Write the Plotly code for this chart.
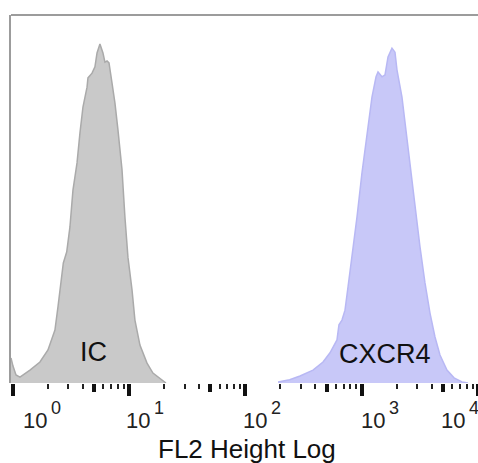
import plotly.graph_objects as go

# --- data (x as log10 decades of FL2 height, y as relative counts) ---
ic_log = [-0.017, 0.000, 0.026, 0.060, 0.146, 0.232, 0.301, 0.361, 0.387, 0.422, 0.433,
          0.462, 0.490, 0.516, 0.551, 0.576, 0.602, 0.637, 0.645, 0.680, 0.705, 0.723,
          0.748, 0.774, 0.791, 0.809, 0.826, 0.852, 0.877, 0.903, 0.938, 0.963, 0.989,
          1.024, 1.049, 1.092, 1.153, 1.204, 1.265, 1.316]
ic_counts = [6.8, 4.6, 2.2, 1.6, 3.5, 5.7, 9.0, 14.4, 20.7, 30.7, 32.6,
             35.6, 42.4, 52.4, 59.8, 67.9, 75.0, 80.4, 82.9, 84.2, 85.9, 89.7,
             92.1, 89.7, 87.2, 87.5, 87.0, 81.5, 76.1, 68.8, 57.9, 45.1, 34.2,
             25.3, 17.1, 10.3, 5.4, 2.7, 1.1, 0.0]

cx_log = [2.280, 2.380, 2.469, 2.581, 2.667, 2.727, 2.787, 2.804, 2.830, 2.856, 2.882,
          2.916, 2.959, 3.002, 3.045, 3.088, 3.123, 3.140, 3.174, 3.200, 3.226, 3.260,
          3.286, 3.303, 3.346, 3.372, 3.415, 3.458, 3.501, 3.544, 3.587, 3.630, 3.673,
          3.733, 3.794, 3.862, 3.914]
cx_counts = [0.3, 0.9, 1.9, 3.5, 5.7, 8.2, 11.7, 15.8, 17.1, 19.8, 26.1,
             34.2, 45.1, 57.1, 67.9, 77.7, 83.2, 84.5, 83.2, 83.7, 88.6, 91.0,
             89.9, 85.1, 77.7, 70.7, 59.8, 47.8, 37.0, 27.2, 19.0, 12.5, 7.6,
             3.5, 1.4, 0.3, 0.0]

series_labels = ["IC", "CXCR4"]
label_pos_log = [0.692, 3.20]
label_pos_count = [8.4, 7.9]

decade_exps = [0, 1, 2, 3, 4]
major_ticks = [10 ** e for e in decade_exps]
mid_ticks = [5, 50, 500, 5000]
minor_ticks = [m * 10 ** e for e in range(4) for m in (2, 3, 4, 6, 7, 8, 9)]
tick_label_shift = [9, -4, -3, -2, -38]

x_title = "FL2 Height Log"

xr = [-0.017, 4.0]

fig = go.Figure()
fig.add_trace(go.Scatter(
    x=[10 ** v for v in ic_log], y=ic_counts, mode="lines", fill="tozeroy",
    line=dict(color="#aaaaaa", width=1.5), fillcolor="#c9c9c9", showlegend=False,
    hoverinfo="skip"))
fig.add_trace(go.Scatter(
    x=[10 ** v for v in cx_log], y=cx_counts, mode="lines", fill="tozeroy",
    line=dict(color="#b8b8f4", width=1.5), fillcolor="#c8c8f8", showlegend=False,
    hoverinfo="skip"))
# invisible trace on second axis carrying the mid-decade ticks
fig.add_trace(go.Scatter(x=[1], y=[0], xaxis="x2", mode="markers",
                         marker=dict(opacity=0), showlegend=False, hoverinfo="skip"))

fig.update_layout(
    width=478, height=463, autosize=False,
    margin=dict(l=11, r=0, t=15, b=80),
    paper_bgcolor="white", plot_bgcolor="white",
    font=dict(family="Arial, Liberation Sans, sans-serif", color="#111111"),
    xaxis=dict(type="log", range=xr, showgrid=False, zeroline=False, showline=False,
               tickmode="array", tickvals=major_ticks, ticks="outside", ticklen=12,
               tickwidth=4, tickcolor="#111111", showticklabels=False,
               minor=dict(tickmode="array", tickvals=minor_ticks, ticks="outside",
                          ticklen=5, tickwidth=2, tickcolor="#222222", showgrid=False)),
    xaxis2=dict(type="log", range=xr, overlaying="x", side="bottom", anchor="y",
                showgrid=False, zeroline=False, showline=False,
                tickmode="array", tickvals=mid_ticks, ticks="outside", ticklen=8,
                tickwidth=4, tickcolor="#111111", showticklabels=False),
    yaxis=dict(range=[0, 100], showgrid=False, zeroline=False, showline=True,
               linecolor="#9c9c9c", linewidth=2, ticks="", showticklabels=False),
    shapes=[dict(type="line", xref="paper", yref="paper", x0=0, x1=1, y0=1, y1=1,
                 line=dict(color="#9c9c9c", width=2))],
)

ann = []
for name, lx, ly in zip(series_labels, label_pos_log, label_pos_count):
    ann.append(dict(x=lx, y=ly, xref="x", yref="y", text=name, showarrow=False,
                    xanchor="center", yanchor="middle",
                    font=dict(size=27, color="#111111")))
for e, sh in zip(decade_exps, tick_label_shift):
    ann.append(dict(x=e, y=-0.101, xref="x", yref="paper", text="10",
                    showarrow=False, xanchor="left", yanchor="middle", xshift=sh - 1,
                    font=dict(size=22, color="#222222")))
    ann.append(dict(x=e, y=-0.068, xref="x", yref="paper", text=str(e),
                    showarrow=False, xanchor="left", yanchor="middle", xshift=sh + 27,
                    font=dict(size=18, color="#222222")))
ann.append(dict(x=0.506, y=-0.179, xref="paper", yref="paper", text=x_title,
                showarrow=False, xanchor="center", yanchor="middle",
                font=dict(size=26, color="#111111")))
fig.update_layout(annotations=ann)

fig.write_html("out.html")
